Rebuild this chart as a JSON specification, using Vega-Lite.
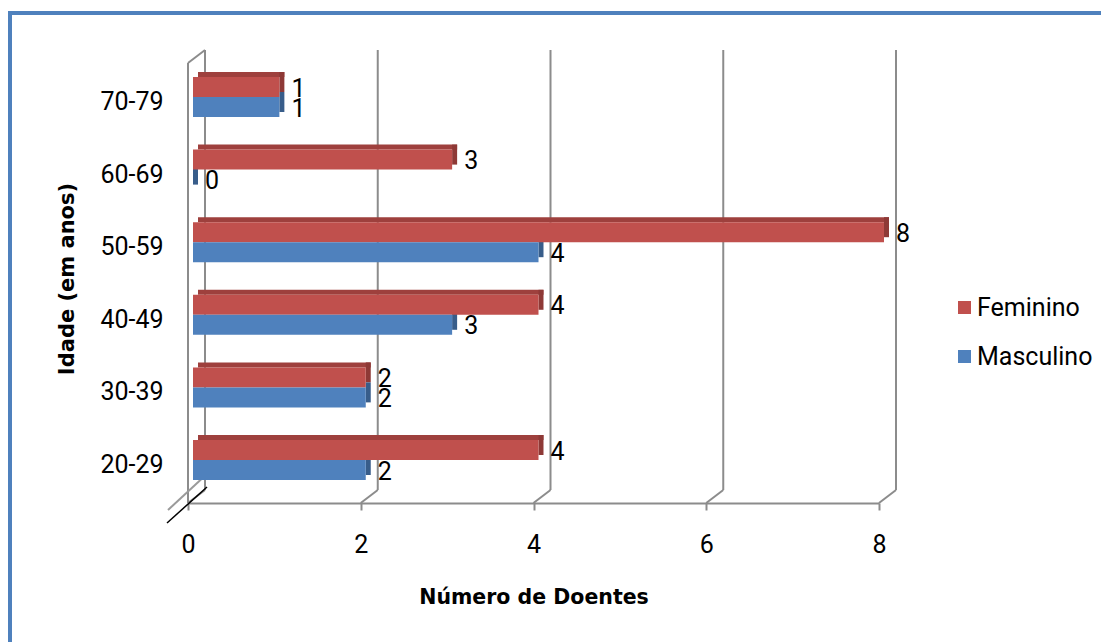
{
  "$schema": "https://vega.github.io/schema/vega-lite/v6.json",
  "width": 1103,
  "height": 641,
  "autosize": {"type": "none"},
  "padding": {"left": 10, "top": 13, "right": -12, "bottom": -12},
  "background": "white",
  "config": {
    "font": "Roboto",
    "view": {"stroke": "#4F81BD", "strokeWidth": 4, "fill": "white"}
  },
  "datasets": {
    "doentes": [
      {"Idade": "70-79", "Sexo": "Feminino", "n": 1},
      {"Idade": "70-79", "Sexo": "Masculino", "n": 1},
      {"Idade": "60-69", "Sexo": "Feminino", "n": 3},
      {"Idade": "60-69", "Sexo": "Masculino", "n": 0},
      {"Idade": "50-59", "Sexo": "Feminino", "n": 8},
      {"Idade": "50-59", "Sexo": "Masculino", "n": 4},
      {"Idade": "40-49", "Sexo": "Feminino", "n": 4},
      {"Idade": "40-49", "Sexo": "Masculino", "n": 3},
      {"Idade": "30-39", "Sexo": "Feminino", "n": 2},
      {"Idade": "30-39", "Sexo": "Masculino", "n": 2},
      {"Idade": "20-29", "Sexo": "Feminino", "n": 4},
      {"Idade": "20-29", "Sexo": "Masculino", "n": 2}
    ],
    "grelha": [{"v": 0}, {"v": 2}, {"v": 4}, {"v": 6}, {"v": 8}]
  },
  "layer": [
    {
      "description": "back-wall gridlines",
      "data": {"name": "grelha"},
      "mark": {"type": "rule", "color": "#8C8C8C", "strokeWidth": 2, "xOffset": 17, "yOffset": -47, "y2Offset": 30},
      "encoding": {
        "x": {
          "field": "v", "type": "quantitative",
          "scale": {"domain": [0, 8], "range": [178, 869], "nice": false, "zero": false},
          "axis": {
            "orient": "bottom", "offset": -151, "values": [0, 2, 4, 6, 8], "format": "d", "grid": false,
            "domain": true, "domainColor": "#8C8C8C", "domainWidth": 2,
            "ticks": true, "tickSize": 7, "tickColor": "#8C8C8C", "tickWidth": 2,
            "labelPadding": 22, "labelFontSize": 25, "labelFont": "Roboto", "labelColor": "#000000", "labelFlush": false,
            "title": "Número de Doentes", "titleFont": "DejaVu Sans", "titleFontSize": 20.5, "titleFontWeight": "bold",
            "titleColor": "#000000", "titlePadding": 30
          }
        },
        "y": {"datum": "70-79", "type": "nominal"},
        "y2": {"datum": "20-29"}
      }
    },
    {
      "description": "floor edges running back from each tick",
      "data": {"name": "grelha"},
      "mark": {"type": "rule", "color": "#8C8C8C", "strokeWidth": 2, "yOffset": 43, "y2Offset": 30, "x2Offset": 17},
      "encoding": {
        "x": {"field": "v", "type": "quantitative"},
        "x2": {"field": "v"},
        "y": {"datum": "20-29", "type": "nominal"},
        "y2": {"datum": "20-29"}
      }
    },
    {
      "description": "front edge of the side wall",
      "data": {"name": "grelha"},
      "transform": [{"filter": "datum.v == 0"}],
      "mark": {"type": "rule", "color": "#8C8C8C", "strokeWidth": 2, "yOffset": -34, "y2Offset": 43},
      "encoding": {
        "x": {"field": "v", "type": "quantitative"},
        "y": {"datum": "70-79", "type": "nominal"},
        "y2": {"datum": "20-29"}
      }
    },
    {
      "description": "top edge of the side wall",
      "data": {"name": "grelha"},
      "transform": [{"filter": "datum.v == 0"}],
      "mark": {"type": "rule", "color": "#8C8C8C", "strokeWidth": 2, "yOffset": -34, "y2Offset": -47, "x2Offset": 17},
      "encoding": {
        "x": {"field": "v", "type": "quantitative"},
        "x2": {"field": "v"},
        "y": {"datum": "70-79", "type": "nominal"},
        "y2": {"datum": "70-79"}
      }
    },
    {
      "description": "axis break, grey stroke",
      "data": {"name": "grelha"},
      "transform": [{"filter": "datum.v == 0"}],
      "mark": {"type": "rule", "color": "#9A9A9A", "strokeWidth": 2, "xOffset": -20, "x2Offset": 20, "yOffset": 50, "y2Offset": 13},
      "encoding": {
        "x": {"field": "v", "type": "quantitative"},
        "x2": {"field": "v"},
        "y": {"datum": "20-29", "type": "nominal"},
        "y2": {"datum": "20-29"}
      }
    },
    {
      "description": "axis break, black stroke",
      "data": {"name": "grelha"},
      "transform": [{"filter": "datum.v == 0"}],
      "mark": {"type": "rule", "color": "#000000", "strokeWidth": 1.5, "xOffset": -21, "x2Offset": 19, "yOffset": 63, "y2Offset": 27},
      "encoding": {
        "x": {"field": "v", "type": "quantitative"},
        "x2": {"field": "v"},
        "y": {"datum": "20-29", "type": "nominal"},
        "y2": {"datum": "20-29"}
      }
    },
    {
      "description": "top face of the Feminino bars",
      "data": {"name": "doentes"},
      "transform": [{"filter": "datum.Sexo == 'Feminino'"}],
      "mark": {"type": "bar", "color": "#9E403D", "xOffset": 10, "x2Offset": 8, "yOffset": -22.5, "height": 5},
      "encoding": {
        "x": {"field": "n", "type": "quantitative"},
        "y": {"field": "Idade", "type": "nominal"}
      }
    },
    {
      "description": "end face of the Feminino bars",
      "data": {"name": "doentes"},
      "transform": [{"filter": "datum.Sexo == 'Feminino'"}],
      "mark": {"type": "bar", "color": "#8E3936", "xOffset": 5, "x2Offset": 10, "yOffset": -15, "height": 20},
      "encoding": {
        "x": {"field": "n", "type": "quantitative"},
        "x2": {"field": "n"},
        "y": {"field": "Idade", "type": "nominal"}
      }
    },
    {
      "description": "end face of the Masculino bars",
      "data": {"name": "doentes"},
      "transform": [{"filter": "datum.Sexo == 'Masculino'"}],
      "mark": {"type": "bar", "color": "#385D8A", "xOffset": 5, "x2Offset": 10, "yOffset": 5, "height": 20},
      "encoding": {
        "x": {"field": "n", "type": "quantitative"},
        "x2": {"field": "n"},
        "y": {"field": "Idade", "type": "nominal"}
      }
    },
    {
      "description": "Feminino bars",
      "data": {"name": "doentes"},
      "transform": [{"filter": "datum.Sexo == 'Feminino'"}],
      "mark": {"type": "bar", "xOffset": 5, "x2Offset": 5, "yOffset": -10, "height": 20},
      "encoding": {
        "x": {"field": "n", "type": "quantitative"},
        "y": {
          "field": "Idade", "type": "nominal",
          "scale": {
            "domain": ["70-79", "60-69", "50-59", "40-49", "30-39", "20-29"],
            "range": [47.7, 483.3], "paddingInner": 0.45, "paddingOuter": 0.225
          },
          "axis": {
            "orient": "left", "offset": -178, "domain": false, "ticks": false, "grid": false,
            "labelPadding": 25, "labelOffset": 5, "labelFontSize": 25, "labelFont": "Roboto", "labelColor": "#000000",
            "title": "Idade (em anos)", "titleFont": "DejaVu Sans", "titleFontSize": 21, "titleFontWeight": "bold",
            "titleColor": "#000000", "titlePadding": 22
          }
        },
        "color": {
          "field": "Sexo", "type": "nominal",
          "scale": {"domain": ["Feminino", "Masculino"], "range": ["#C0504D", "#4F81BD"]},
          "legend": {
            "orient": "none", "legendX": 942, "legendY": 282, "title": null, "padding": 0,
            "symbolType": "square", "symbolSize": 169, "symbolStrokeWidth": 0, "symbolOpacity": 1,
            "labelFontSize": 25, "labelFont": "Roboto", "labelColor": "#000000", "labelOffset": 0, "rowPadding": 23
          }
        }
      }
    },
    {
      "description": "Masculino bars",
      "data": {"name": "doentes"},
      "transform": [{"filter": "datum.Sexo == 'Masculino'"}],
      "mark": {"type": "bar", "xOffset": 5, "x2Offset": 5, "yOffset": 10, "height": 20},
      "encoding": {
        "x": {"field": "n", "type": "quantitative"},
        "y": {"field": "Idade", "type": "nominal"},
        "color": {"field": "Sexo", "type": "nominal"}
      }
    },
    {
      "description": "value labels, Feminino",
      "data": {"name": "doentes"},
      "transform": [{"filter": "datum.Sexo == 'Feminino'"}],
      "mark": {"type": "text", "align": "left", "baseline": "middle", "dx": 17, "yOffset": -8.5, "fontSize": 25, "font": "Roboto", "color": "#000000"},
      "encoding": {
        "x": {"field": "n", "type": "quantitative"},
        "y": {"field": "Idade", "type": "nominal"},
        "text": {"field": "n", "type": "quantitative"}
      }
    },
    {
      "description": "value labels, Masculino",
      "data": {"name": "doentes"},
      "transform": [{"filter": "datum.Sexo == 'Masculino'"}],
      "mark": {"type": "text", "align": "left", "baseline": "middle", "dx": 17, "yOffset": 11.5, "fontSize": 25, "font": "Roboto", "color": "#000000"},
      "encoding": {
        "x": {"field": "n", "type": "quantitative"},
        "y": {"field": "Idade", "type": "nominal"},
        "text": {"field": "n", "type": "quantitative"}
      }
    }
  ]
}
